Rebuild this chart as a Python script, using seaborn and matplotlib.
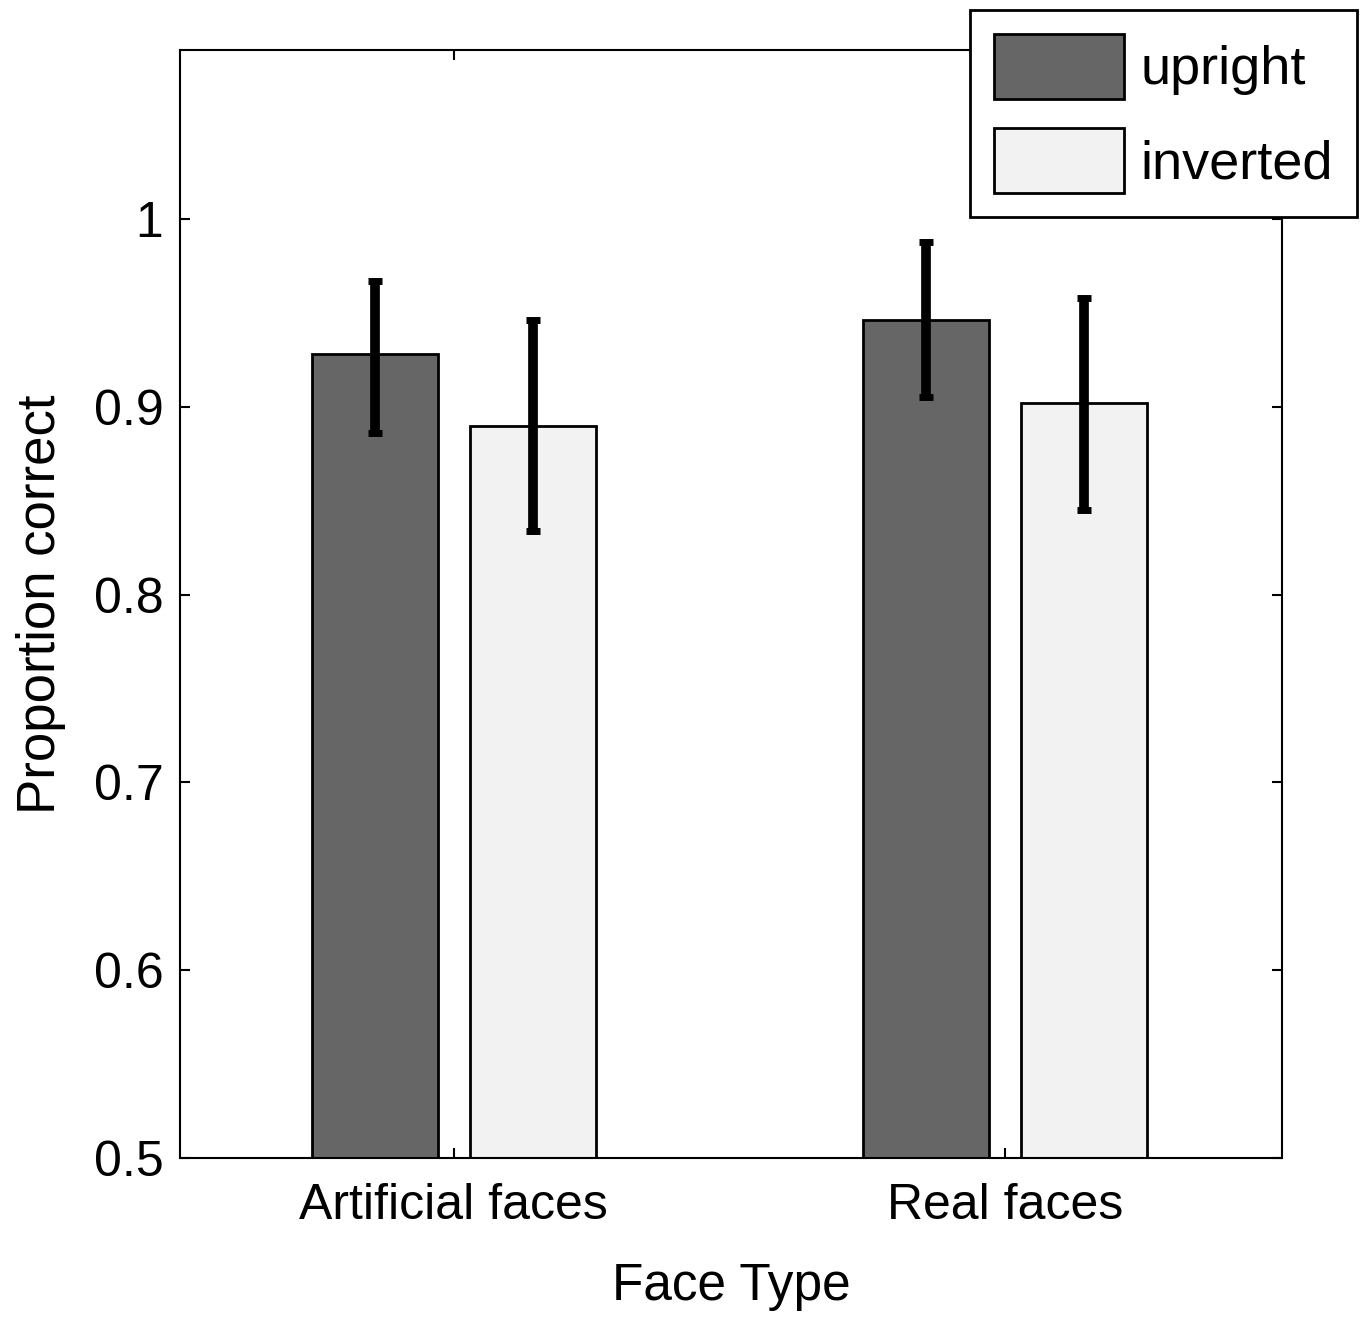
import matplotlib
matplotlib.use("Agg")
import matplotlib.pyplot as plt
import seaborn as sns
import pandas as pd
import numpy as np

# ---- data ----
face_types = ["Artificial faces", "Real faces"]
orientations = ["upright", "inverted"]
upright_mean = [0.928, 0.946]
inverted_mean = [0.890, 0.902]
upright_low = [0.886, 0.905]
upright_high = [0.967, 0.988]
inverted_low = [0.834, 0.845]
inverted_high = [0.946, 0.958]
y_ticks = [0.5, 0.6, 0.7, 0.8, 0.9, 1.0]
y_tick_labels = ["0.5", "0.6", "0.7", "0.8", "0.9", "1"]
colors = {"upright": "#666666", "inverted": "#f2f2f2"}

df = pd.DataFrame({
    "Face Type": face_types * 2,
    "orientation": ["upright"] * 2 + ["inverted"] * 2,
    "value": upright_mean + inverted_mean,
})
lows = {"upright": upright_low, "inverted": inverted_low}
highs = {"upright": upright_high, "inverted": inverted_high}
means = {"upright": upright_mean, "inverted": inverted_mean}

sns.set_style("white")
plt.rcParams["font.family"] = ["Liberation Sans", "DejaVu Sans"]
plt.rcParams["text.color"] = "black"
plt.rcParams["axes.labelcolor"] = "black"

fig = plt.figure(figsize=(13.65, 13.17), dpi=100)
ax = fig.add_axes([180 / 1365, 1 - 1158 / 1317, (1282 - 180) / 1365, (1158 - 50) / 1317])

sns.barplot(data=df, x="Face Type", y="value", hue="orientation",
            order=face_types, hue_order=orientations, palette=colors,
            width=0.572, gap=0.2, edgecolor="black", linewidth=2,
            legend=False, errorbar=None, ax=ax)

bar_containers = [c for c in ax.containers]
handles = [c.patches[0] for c in bar_containers]

for hue, cont in zip(orientations, bar_containers):
    xs = [p.get_x() + p.get_width() / 2 for p in cont.patches]
    m = np.array(means[hue])
    lo = m - np.array(lows[hue])
    hi = np.array(highs[hue]) - m
    ax.errorbar(xs, m, yerr=[lo, hi], fmt="none", ecolor="black",
                elinewidth=7, capsize=5, capthick=5, zorder=5)

ax.set_xlim(-0.497, 1.503)
ax.set_ylim(0.5, 1.09)
ax.set_yticks(y_ticks)
ax.set_yticklabels(y_tick_labels)
ax.set_xticks([0, 1])
ax.set_xticklabels(face_types)

ax.tick_params(axis="both", direction="in", length=7, width=1.5,
               top=True, right=True, bottom=True, left=True,
               labelsize=36, colors="black", pad=12)
ax.tick_params(axis="x", pad=18)
for s in ax.spines.values():
    s.set_visible(True)
    s.set_color("black")
    s.set_linewidth(1.5)

ax.set_xlabel("Face Type", fontsize=37, labelpad=24, color="black")
ax.set_ylabel("Proportion correct", fontsize=38, labelpad=20, color="black")

leg = fig.legend(handles=handles, labels=orientations, loc="upper right",
                 bbox_to_anchor=(1357 / 1365, 1 - 10 / 1317),
                 fontsize=39, frameon=True, fancybox=False,
                 edgecolor="black", framealpha=1,
                 handlelength=2.4, handleheight=1.45, handletextpad=0.3,
                 labelspacing=0.55, borderpad=0.45, borderaxespad=0)
leg.get_frame().set_linewidth(2)
for t in leg.get_texts():
    t.set_color("black")

fig.savefig("out.png", dpi=100)
